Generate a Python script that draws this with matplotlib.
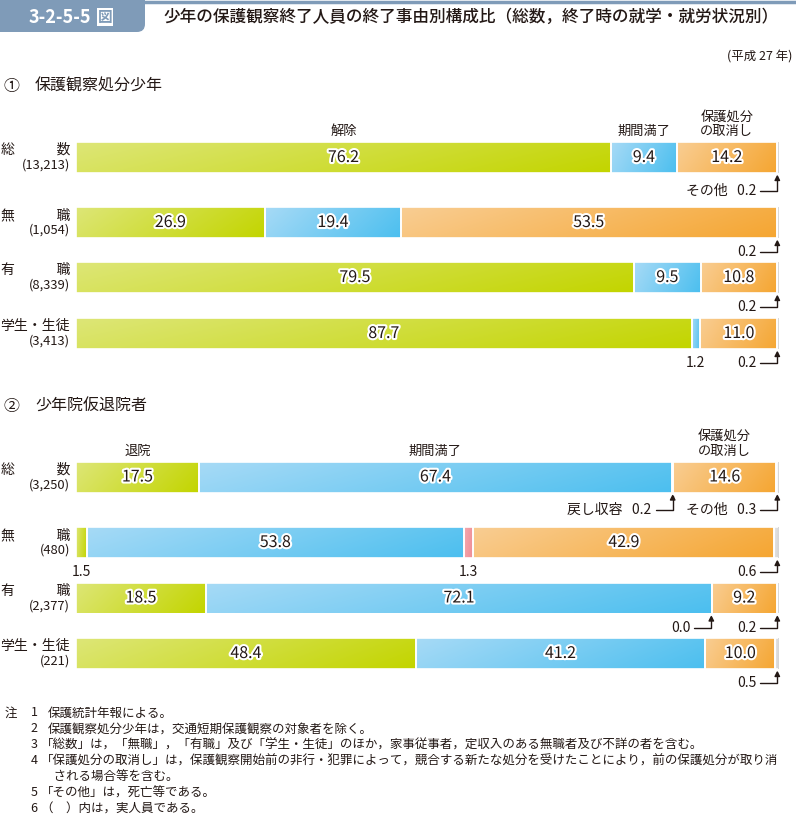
import matplotlib.pyplot as plt
import matplotlib.patheffects as pe
from matplotlib.patches import FancyBboxPatch
from matplotlib.colors import to_rgb
import numpy as np

plt.rcParams['font.family'] = ['Noto Sans CJK JP', 'DejaVu Sans']

# ---- datos ----
p1_cats = ['総　　　数', '無　　　職', '有　　　職', '学生・生徒']
p1_counts = ['(13,213)', '(1,054)', '(8,339)', '(3,413)']
p1_heads = ['解除', '期間満了', '保護処分\nの取消し', '']
p1_kaijo = [76.2, 26.9, 79.5, 87.7]
p1_manryo = [9.4, 19.4, 9.5, 1.2]
p1_torikeshi = [14.2, 53.5, 10.8, 11.0]
p1_sonota = [0.2, 0.2, 0.2, 0.2]

p2_cats = ['総　　　数', '無　　　職', '有　　　職', '学生・生徒']
p2_counts = ['(3,250)', '(480)', '(2,377)', '(221)']
p2_heads = ['退院', '期間満了', '', '保護処分\nの取消し', '']
p2_taiin = [17.5, 1.5, 18.5, 48.4]
p2_manryo = [67.4, 53.8, 72.1, 41.2]
p2_modoshi = [0.2, 1.3, 0.0, 0.0]
p2_torikeshi = [14.6, 42.9, 9.2, 10.0]
p2_sonota = [0.3, 0.6, 0.2, 0.5]

# segmentos chicos: (fila, serie, nombre, flecha)
p1_small = [(0, 3, 'その他', True), (1, 3, '', True), (2, 3, '', True),
            (3, 3, '', True), (3, 1, '', False)]
p2_small = [(0, 2, '戻し収容', True), (0, 4, 'その他', True), (1, 4, '', True),
            (1, 0, '', False), (1, 2, '', False), (2, 2, '', True),
            (2, 4, '', True), (3, 4, '', True)]

notes = [
    ('注', '1', '保護統計年報による。'),
    ('', '2', '保護観察処分少年は，交通短期保護観察の対象者を除く。'),
    ('', '3', '「総数」は，「無職」，「有職」及び「学生・生徒」のほか，家事従事者，定収入のある無職者及び不詳の者を含む。'),
    ('', '4', '「保護処分の取消し」は，保護観察開始前の非行・犯罪によって，競合する新たな処分を受けたことにより，前の保護処分が取り消'),
    ('', '', '　される場合等を含む。'),
    ('', '5', '「その他」は，死亡等である。'),
    ('', '6', '（　）内は，実人員である。'),
]

# ---- estilo ----
GREEN = ('#dde676', '#c3d500')
BLUE = ('#a6daf6', '#4cbfef')
PINK = ('#f4a9ae', '#ee8a93')
ORANGE = ('#f9cd92', '#f5a632')
GRAY = ('#e6e6e6', '#d4d4d4')
TXT = '#231815'
TAB = '#7f9bb8'
W, H = 796, 817
halo = [pe.withStroke(linewidth=3, foreground='white')]

fig = plt.figure(figsize=(W / 100, H / 100), dpi=100)
bg = fig.add_axes([0, 0, 1, 1])
bg.set_xlim(0, W)
bg.set_ylim(H, 0)
bg.axis('off')

ax = fig.add_axes([76 / W, 0, 702 / W, 1])
ax.set_xlim(0, 100)
ax.set_ylim(H, 0)
ax.axis('off')

# ---- encabezado ----
tab = FancyBboxPatch((-10, -10), 155, 42, boxstyle='round,pad=0,rounding_size=8',
                     facecolor=TAB, edgecolor='none')
bg.add_patch(tab)
bg.plot([140, W], [2, 2], color=TAB, lw=2.5, solid_capstyle='butt')
bg.text(29, 17, '3-2-5-5', color='white', fontsize=13, fontweight='bold',
        ha='left', va='center')
bg.text(105, 17, '図', color=TAB, fontsize=10.5, fontweight='bold', ha='center', va='center',
        bbox=dict(boxstyle='square,pad=0.08', facecolor='white', edgecolor='none'))
bg.text(163, 17, '少年の保護観察終了人員の終了事由別構成比（総数，終了時の就学・就労状況別）',
        color=TXT, fontsize=12, fontweight='medium', ha='left', va='center')
bg.text(792, 57, '(平成 27 年)', color=TXT, fontsize=9, ha='right', va='center')
bg.text(4, 86, '①', color=TXT, fontsize=11.5, ha='left', va='center')
bg.text(35, 86, '保護観察処分少年', color=TXT, fontsize=11.5, ha='left', va='center')
bg.text(4, 406, '②', color=TXT, fontsize=11.5, ha='left', va='center')
bg.text(35, 406, '少年院仮退院者', color=TXT, fontsize=11.5, ha='left', va='center')


def gradiente(rect, c1, c2):
    x0, y0 = rect.get_x(), rect.get_y()
    w, h = rect.get_width(), rect.get_height()
    if w <= 0:
        return
    gx = np.linspace(0, 1, 80)[None, :]
    gy = np.linspace(0, 1, 10)[:, None]
    t = np.clip(0.82 * gx + 0.18 * gy, 0, 1)
    a = np.array(to_rgb(c1))
    b = np.array(to_rgb(c2))
    img = a + (b - a) * t[..., None]
    im = ax.imshow(img, extent=[x0, x0 + w, y0 + h, y0], aspect='auto',
                   interpolation='bilinear', zorder=2)
    im.set_clip_path(rect)


def panel(ypos, series, colors, cats, counts, heads, small, bh=31):
    vals = np.array(series)          # (serie, fila)
    lefts = np.cumsum(vals, axis=0) - vals
    for k in range(len(series)):
        bars = ax.barh(ypos, vals[k], left=lefts[k], height=bh, color='none',
                       edgecolor='white', lw=1.2, zorder=3)
        for j, r in enumerate(bars):
            gradiente(r, *colors[k])
            v = vals[k][j]
            if v >= 5:
                ax.text(lefts[k][j] + v / 2, ypos[j], f'{v:.1f}', color=TXT,
                        fontsize=11.5, ha='center', va='center', zorder=5,
                        path_effects=halo)
        if heads[k]:
            ax.text(lefts[k][0] + vals[k][0] / 2, ypos[0] - bh / 2 - 4, heads[k],
                    color=TXT, fontsize=9.5, ha='center', va='bottom', linespacing=1.15)
    for j, c in enumerate(cats):
        bg.text(70, ypos[j] - 7.5, c, color=TXT, fontsize=10, ha='right', va='center')
        bg.text(70, ypos[j] + 8, counts[j], color=TXT, fontsize=9.3, ha='right', va='center')
    for (j, k, nombre, flecha) in small:
        v = vals[k][j]
        bot = ypos[j] + bh / 2
        yt = bot + (17.5 if j == 0 else 14)
        if flecha:
            xe = min(lefts[k][j] + v, 100)
            lab = (nombre + '   ' if nombre else '') + f'{v:.1f}'
            ax.text(xe - 3.1, yt, lab, color=TXT, fontsize=10, ha='right', va='center')
            ax.annotate('', xy=(xe - 0.1, bot + 1.5), xytext=(xe - 2.5, yt),
                        arrowprops=dict(arrowstyle='-|>', color=TXT, lw=1,
                                        mutation_scale=8, shrinkA=0, shrinkB=0,
                                        connectionstyle='angle,angleA=0,angleB=90,rad=0'))
        else:
            ax.text(lefts[k][j] + v / 2, yt, f'{v:.1f}', color=TXT, fontsize=10,
                    ha='center', va='center')


panel([157.5, 222.5, 277.5, 333.5],
      [p1_kaijo, p1_manryo, p1_torikeshi, p1_sonota],
      [GREEN, BLUE, ORANGE, GRAY], p1_cats, p1_counts, p1_heads, p1_small)
panel([477, 542.5, 598, 653.5],
      [p2_taiin, p2_manryo, p2_modoshi, p2_torikeshi, p2_sonota],
      [GREEN, BLUE, PINK, ORANGE, GRAY], p2_cats, p2_counts, p2_heads, p2_small)

# ---- notas ----
for i, (a, n, t) in enumerate(notes):
    y = 713 + i * 16
    bg.text(5, y, a, color=TXT, fontsize=9, ha='left', va='center')
    bg.text(34, y, n, color=TXT, fontsize=9, ha='center', va='center')
    x = 41 if t.startswith(('「', '（', '\u3000')) else 48
    bg.text(x, y, t, color=TXT, fontsize=9, ha='left', va='center')

fig.savefig('out.png', dpi=100)
